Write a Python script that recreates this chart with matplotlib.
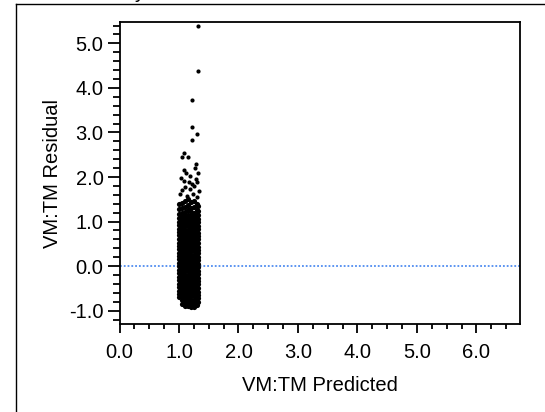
import matplotlib
matplotlib.use("Agg")
import matplotlib.pyplot as plt
from matplotlib.lines import Line2D
from matplotlib.ticker import MultipleLocator, FormatStrFormatter

plt.rcParams['font.family'] = ['Liberation Sans', 'DejaVu Sans']

# dense core of the residual cloud, one list of residuals per predicted-value column
core_x = [1.00, 1.05, 1.10, 1.15, 1.20, 1.25, 1.30, 1.32]
core_y = [
    [-0.70, -0.62, -0.55, -0.47, -0.39, -0.31, -0.24, -0.16, -0.08, 0.00, 0.07, 0.15, 0.23,
     0.30, 0.38, 0.46, 0.53, 0.61, 0.69, 0.76, 0.84, 0.92, 1.00, 1.08, 1.17, 1.28, 1.40],
    [-0.84, -0.77, -0.69, -0.61, -0.53, -0.46, -0.38, -0.30, -0.22, -0.15, -0.07, 0.01, 0.09,
     0.16, 0.24, 0.32, 0.40, 0.47, 0.55, 0.63, 0.71, 0.78, 0.86, 0.94, 1.02, 1.10, 1.19, 1.30, 1.42],
    [-0.90, -0.82, -0.74, -0.66, -0.58, -0.51, -0.43, -0.35, -0.27, -0.20, -0.12, -0.04, 0.04,
     0.11, 0.19, 0.27, 0.35, 0.42, 0.50, 0.58, 0.66, 0.73, 0.81, 0.89, 0.97, 1.05, 1.13, 1.22,
     1.33, 1.47],
    [-0.89, -0.81, -0.73, -0.65, -0.57, -0.50, -0.42, -0.34, -0.26, -0.19, -0.11, -0.03, 0.05,
     0.12, 0.20, 0.28, 0.36, 0.43, 0.51, 0.59, 0.67, 0.74, 0.82, 0.90, 0.98, 1.06, 1.15, 1.25,
     1.38, 1.50],
    [-0.91, -0.83, -0.75, -0.67, -0.59, -0.52, -0.44, -0.36, -0.28, -0.21, -0.13, -0.05, 0.03,
     0.10, 0.18, 0.26, 0.34, 0.41, 0.49, 0.57, 0.65, 0.72, 0.80, 0.88, 0.96, 1.04, 1.12, 1.21,
     1.31, 1.44],
    [-0.92, -0.84, -0.76, -0.68, -0.60, -0.53, -0.45, -0.37, -0.29, -0.22, -0.14, -0.06, 0.02,
     0.09, 0.17, 0.25, 0.33, 0.40, 0.48, 0.56, 0.64, 0.71, 0.79, 0.87, 0.95, 1.03, 1.11, 1.20,
     1.32, 1.46],
    [-0.88, -0.80, -0.72, -0.64, -0.56, -0.49, -0.41, -0.33, -0.25, -0.18, -0.10, -0.02, 0.06,
     0.13, 0.21, 0.29, 0.37, 0.44, 0.52, 0.60, 0.68, 0.75, 0.83, 0.91, 0.99, 1.07, 1.16, 1.27, 1.40],
    [-0.80, -0.72, -0.64, -0.57, -0.49, -0.41, -0.33, -0.26, -0.18, -0.10, -0.02, 0.05, 0.13,
     0.21, 0.29, 0.36, 0.44, 0.52, 0.60, 0.67, 0.75, 0.83, 0.91, 0.98, 1.06, 1.14, 1.24, 1.35],
]

# sparse points above the core
outlier_x = [1.32, 1.32, 1.22, 1.22, 1.31, 1.22, 1.09, 1.05, 1.15, 1.29, 1.32, 1.08, 1.04,
             1.08, 1.18, 1.30, 1.17, 1.05, 1.19, 1.26, 1.33, 1.13, 1.24, 1.10, 1.28, 1.02,
             1.31, 1.21, 1.12, 1.27]
outlier_y = [5.40, 4.38, 3.74, 3.12, 2.97, 2.84, 2.53, 2.44, 2.44, 2.29, 2.10, 2.16, 1.97,
             1.91, 2.03, 1.88, 1.89, 1.71, 1.73, 1.80, 1.69, 1.58, 1.61, 1.78, 1.95, 1.62,
             1.55, 1.85, 2.08, 2.20]

x_ticks = [0.0, 1.0, 2.0, 3.0, 4.0, 5.0, 6.0]
y_ticks = [-1.0, 0.0, 1.0, 2.0, 3.0, 4.0, 5.0]

xs, ys = [], []
for cx, col in zip(core_x, core_y):
    xs += [cx] * len(col)
    ys += col

fig = plt.figure(figsize=(5.45, 4.12), dpi=100)
ax = fig.add_axes([0.2193, 0.2124, 0.7357, 0.7342])

ax.axhline(0, color='#4f8cf0', linestyle=(0, (1, 1.1)), linewidth=1.3, zorder=1)
ax.scatter(xs, ys, s=14, color='black', linewidths=0, zorder=2)
ax.scatter(outlier_x, outlier_y, s=9, color='black', linewidths=0, zorder=2)

ax.set_xlim(0, 6.74)
ax.set_ylim(-1.31, 5.48)
ax.set_xticks(x_ticks)
ax.set_yticks(y_ticks)
ax.xaxis.set_minor_locator(MultipleLocator(0.25))
ax.yaxis.set_minor_locator(MultipleLocator(0.2))
ax.xaxis.set_major_formatter(FormatStrFormatter('%.1f'))
ax.yaxis.set_major_formatter(FormatStrFormatter('%.1f'))

for sp in ax.spines.values():
    sp.set_linewidth(1.3)
ax.tick_params(which='major', direction='out', width=1.3, labelsize=14.5, colors='black')
ax.tick_params(axis='y', which='major', length=8.6, pad=3)
ax.tick_params(axis='x', which='major', length=6.5, pad=7)
ax.tick_params(axis='y', which='minor', direction='out', length=5, width=1.3)
ax.tick_params(axis='x', which='minor', direction='out', length=3.6, width=1.3)

ax.set_xlabel('VM:TM Predicted', fontsize=14.5, labelpad=10)
ax.set_ylabel('VM:TM Residual', fontsize=14.5, labelpad=5)

# outer frame, only its top and left edges are in view
fig.add_artist(Line2D([16 / 545, 1], [1 - 3.5 / 412, 1 - 3.5 / 412], color='black', linewidth=1.0))
fig.add_artist(Line2D([16 / 545, 16 / 545], [0, 1 - 3.5 / 412], color='black', linewidth=1.0))
# descender of the clipped title above the frame
fig.text(140 / 545, 1 + 2.5 / 412, 'y', fontsize=14.5, ha='center', va='baseline')

fig.savefig('out.png', dpi=100)
